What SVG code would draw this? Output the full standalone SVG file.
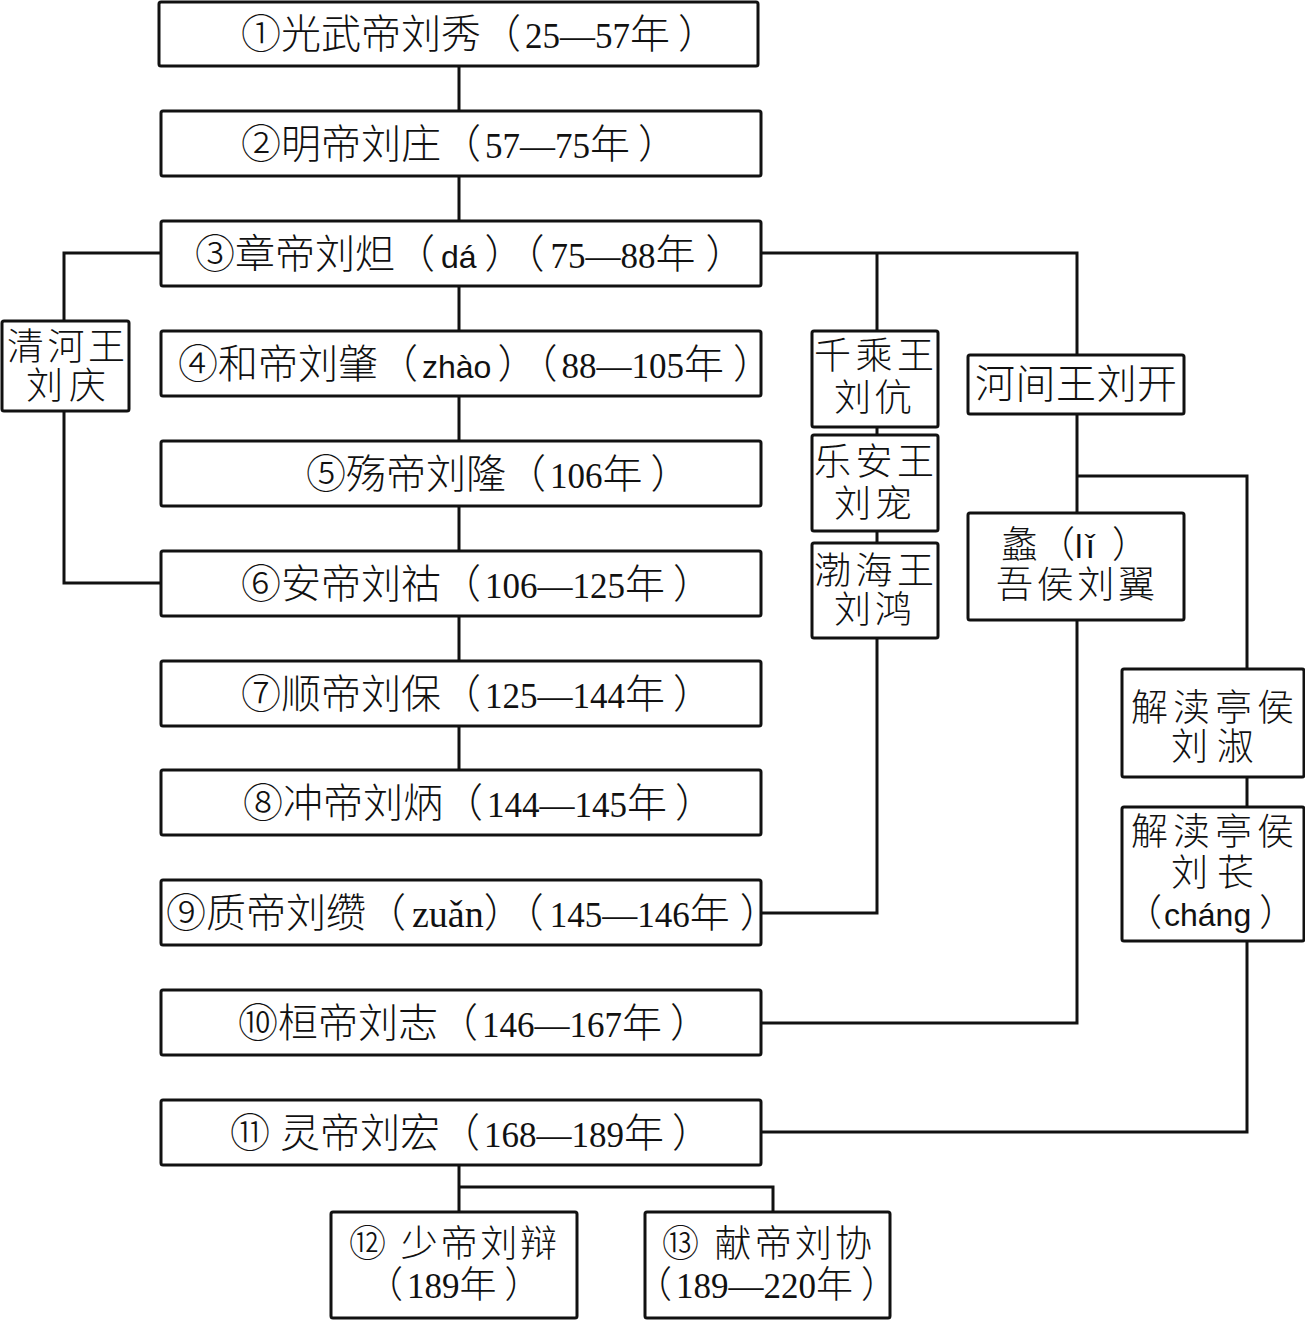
<svg xmlns="http://www.w3.org/2000/svg" width="1305" height="1320" viewBox="0 0 1305 1320">
<style>
rect{fill:#fff;stroke:#111;stroke-width:3}
.c path{fill:none;stroke:#111;stroke-width:3}
text{font-family:"Liberation Serif","Noto Sans CJK SC",serif;font-size:40px;fill:#111;font-weight:300}
.d{font-size:35px}
.s{font-family:"Liberation Sans","Noto Sans CJK SC",sans-serif;font-size:32px}
.b{font-size:37px}
</style>
<rect x="0" y="0" width="1305" height="1320" style="stroke:none"/>
<g class="c" id="connectors">
<path d="M459 66V111M459 176V221M459 286V331M459 396V441M459 506V551M459 616V661M459 726V770"/>
<path d="M161 253H64V321M64 411V583H161"/>
<path d="M761 253H1077V355M877 253V331M877 427V435M877 531V543M877 638V913H761"/>
<path d="M1077 414V513M1077 476H1247V669M1247 777V807M1077 620V1023H761M1247 941V1132H761"/>
<path d="M459 1165V1187H773V1212M459 1187V1212"/>
</g>
<g id="n1"><rect x="159" y="2" width="599" height="64" rx="2"/><text x="241" y="48">①光武帝刘秀（<tspan class="d" dx="4">25—57</tspan>年<tspan dx="8">）</tspan></text></g>
<g id="n2"><rect x="161" y="111" width="600" height="65" rx="2"/><text x="241" y="158">②明帝刘庄（<tspan class="d" dx="4">57—75</tspan>年<tspan dx="8">）</tspan></text></g>
<g id="n3"><rect x="161" y="221" width="600" height="65" rx="2"/><text x="195" y="268">③章帝刘炟（<tspan class="s" dx="6">dá</tspan><tspan dx="8">）（</tspan><tspan class="d" dx="6">75—88</tspan>年<tspan dx="10">）</tspan></text></g>
<g id="n4"><rect x="161" y="331" width="600" height="65" rx="2"/><text x="178" y="378">④和帝刘肇（<tspan class="s" dx="4">zhào</tspan><tspan dx="6">）（</tspan><tspan class="d" dx="4">88—105</tspan>年<tspan dx="9">）</tspan></text></g>
<g id="n5"><rect x="161" y="441" width="600" height="65" rx="2"/><text x="306" y="488">⑤殇帝刘隆（<tspan class="d" dx="4">106</tspan>年<tspan dx="8">）</tspan></text></g>
<g id="n6"><rect x="161" y="551" width="600" height="65" rx="2"/><text x="241" y="598">⑥安帝刘祜（<tspan class="d" dx="4">106—125</tspan>年<tspan dx="8">）</tspan></text></g>
<g id="n7"><rect x="161" y="661" width="600" height="65" rx="2"/><text x="241" y="708">⑦顺帝刘保（<tspan class="d" dx="4">125—144</tspan>年<tspan dx="8">）</tspan></text></g>
<g id="n8"><rect x="161" y="770" width="600" height="65" rx="2"/><text x="243" y="817">⑧冲帝刘炳（<tspan class="d" dx="4">144—145</tspan>年<tspan dx="8">）</tspan></text></g>
<g id="n9"><rect x="161" y="880" width="600" height="65" rx="2"/><text x="166" y="927">⑨质帝刘缵（<tspan style="font-size:38px" dx="6">zuǎn</tspan>）（<tspan class="d" dx="6">145—146</tspan>年<tspan dx="10">）</tspan></text></g>
<g id="n10"><rect x="161" y="990" width="600" height="65" rx="2"/><text x="238" y="1037">⑩桓帝刘志（<tspan class="d" dx="4">146—167</tspan>年<tspan dx="8">）</tspan></text></g>
<g id="n11"><rect x="161" y="1100" width="600" height="65" rx="2"/><text x="230" y="1147">⑪ 灵帝刘宏（<tspan class="d" dx="4">168—189</tspan>年<tspan dx="8">）</tspan></text></g>
<g id="n12"><rect x="331" y="1212" width="246" height="106" rx="2"/><text class="b" x="349" y="1257" textLength="208">⑫ 少帝刘辩</text><text class="b" x="366" y="1298">（<tspan class="d" dx="4">189</tspan>年<tspan dx="8">）</tspan></text></g>
<g id="n13"><rect x="645" y="1212" width="245" height="106" rx="2"/><text class="b" x="662" y="1257" textLength="210">⑬ 献帝刘协</text><text class="b" x="635" y="1298">（<tspan class="d" dx="4">189—220</tspan>年<tspan dx="8">）</tspan></text></g>
<g id="qinghe"><rect x="2" y="321" width="127" height="90" rx="2"/><text class="b" x="7" y="360" textLength="118">清河王</text><text class="b" x="26" y="399" textLength="80">刘庆</text></g>
<g id="qiancheng"><rect x="812" y="331" width="126" height="96" rx="2"/><text class="b" x="814" y="369" textLength="120">千乘王</text><text class="b" x="834" y="411" textLength="78">刘伉</text></g>
<g id="lean"><rect x="812" y="435" width="126" height="96" rx="2"/><text class="b" x="814" y="475" textLength="120">乐安王</text><text class="b" x="834" y="517" textLength="78">刘宠</text></g>
<g id="bohai"><rect x="812" y="543" width="126" height="95" rx="2"/><text class="b" x="814" y="584" textLength="120">渤海王</text><text class="b" x="834" y="623" textLength="78">刘鸿</text></g>
<g id="hejian"><rect x="968" y="355" width="216" height="59" rx="2"/><text x="975" y="398" textLength="202">河间王刘开</text></g>
<g id="liwu"><rect x="968" y="513" width="216" height="107" rx="2"/><text class="b" x="1001" y="558">蠡（<tspan class="s" style="font-size:34px" letter-spacing="4">lǐ</tspan><tspan dx="14">）</tspan></text><text class="b" x="996" y="598" textLength="159">吾侯刘翼</text></g>
<g id="jiedu1"><rect x="1122" y="669" width="182" height="108" rx="2"/><text class="b" x="1131" y="721" textLength="163">解渎亭侯</text><text class="b" x="1171" y="760" textLength="83">刘淑</text></g>
<g id="jiedu2"><rect x="1122" y="807" width="182" height="134" rx="2"/><text class="b" x="1131" y="845" textLength="163">解渎亭侯</text><text class="b" x="1171" y="886" textLength="83">刘苌</text><text class="b" x="1125" y="926">（<tspan class="s" dx="2">cháng</tspan><tspan dx="8">）</tspan></text></g>
</svg>
